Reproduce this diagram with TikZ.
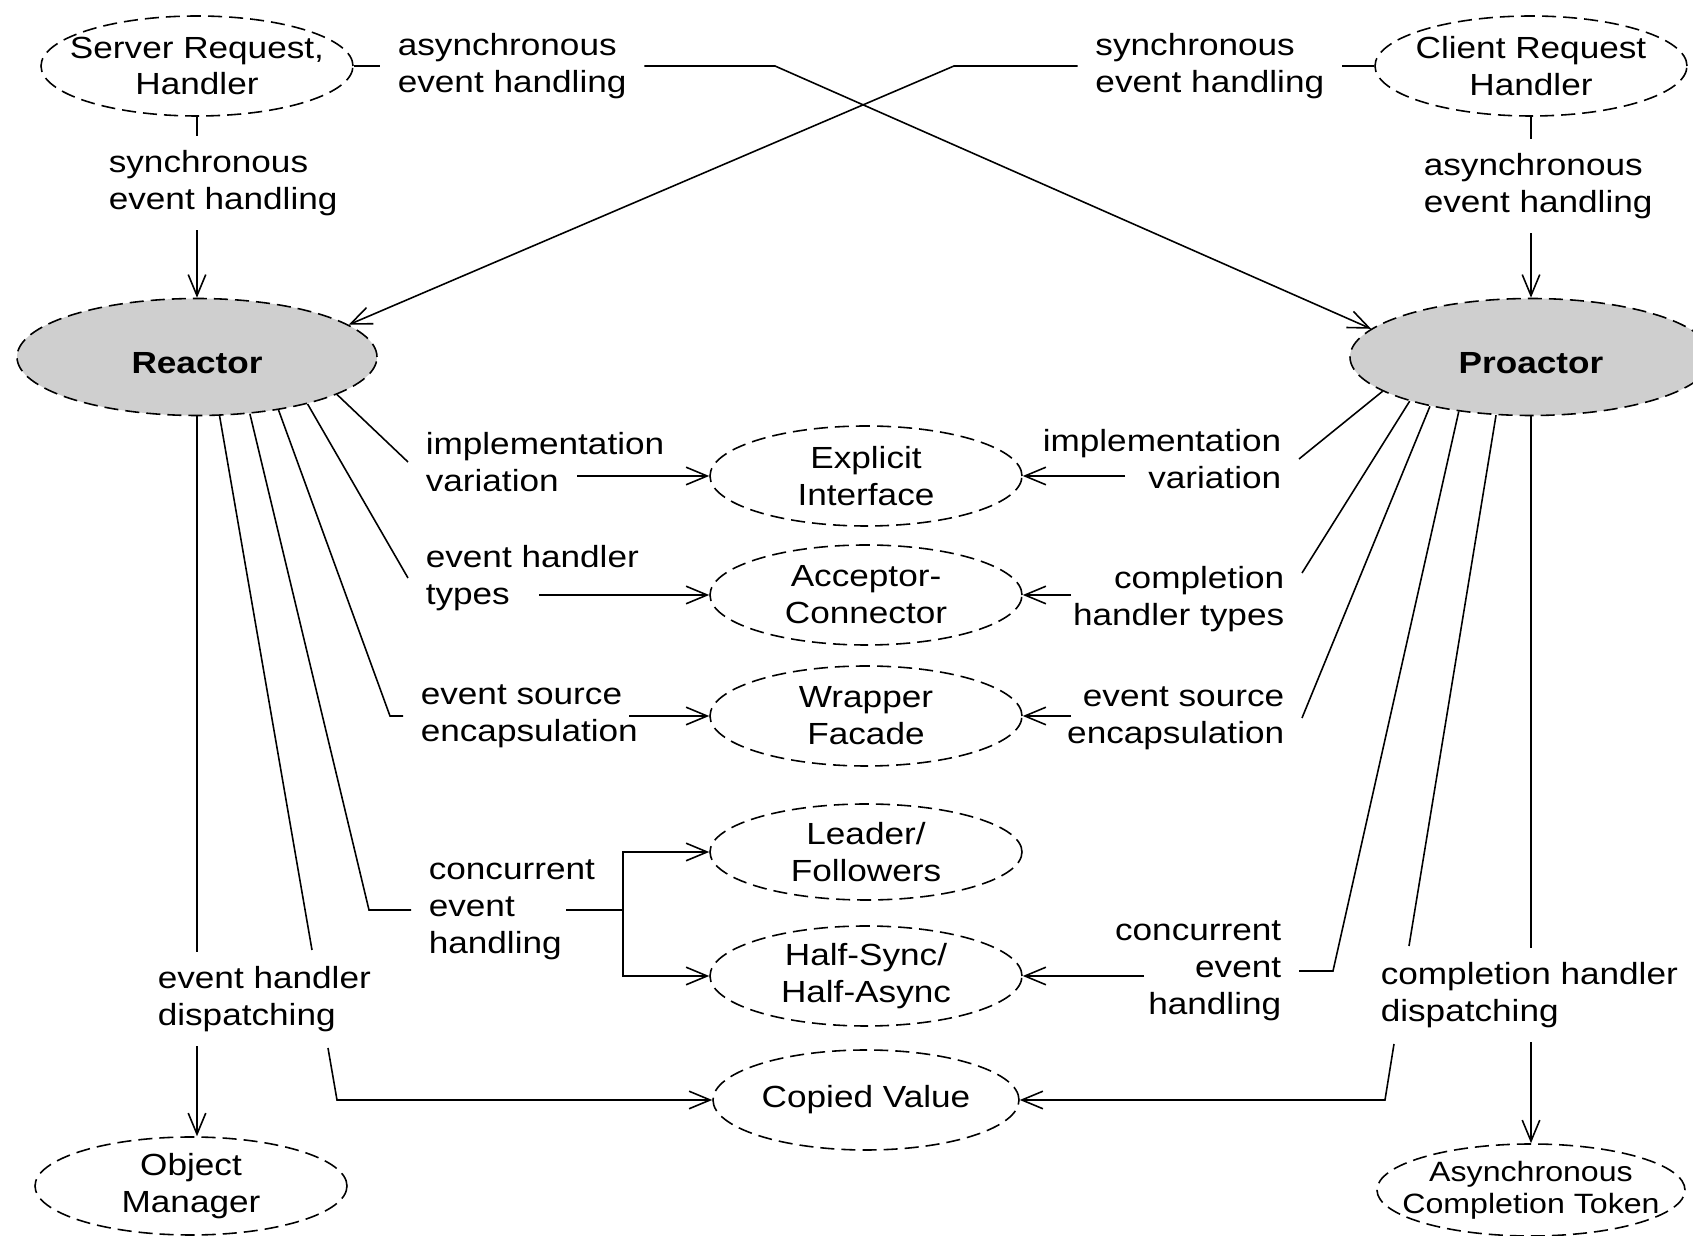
\documentclass[tikz,border=0pt]{standalone}
\usepackage{fontspec}
\setmainfont[FakeStretch=1.15]{Liberation Sans}
\usetikzlibrary{arrows.meta,shapes.geometric}

\begin{document}
\begin{tikzpicture}[
  x=1cm, y=1cm, line width=0.45pt,
  font=\fontsize{8.7}{10.5}\selectfont,
  ell/.style={ellipse, draw, dash pattern=on 4pt off 2pt, align=center,
    minimum width=3.12cm, minimum height=1.0cm, inner xsep=-0.3cm, inner ysep=-0.02cm},
  core/.style={ell, fill=gray!38, minimum width=3.6cm, minimum height=1.17cm,
    text height=0.34cm, font=\fontsize{8.7}{10.5}\selectfont\bfseries},
  lbl/.style={inner xsep=0.17cm, inner ysep=0.14cm, align=left},
  arr/.style={-{Straight Barb[length=6pt,width=5pt]}}
]
\useasboundingbox (0,0) rectangle (16.93,-12.36);

% patterns
\node[ell] (srh) at (1.97,-0.66) {Server Request,\\Handler};
\node[ell] (crh) at (15.31,-0.66) {Client Request\\Handler};
\node[core] (reactor) at (1.97,-3.57) {Reactor};
\node[core, minimum width=3.62cm] (proactor) at (15.31,-3.57) {Proactor};
\node[ell] (expl) at (8.66,-4.76) {Explicit\\Interface};
\node[ell] (acc) at (8.66,-5.95) {Acceptor-\\Connector};
\node[ell] (wrap) at (8.66,-7.16) {Wrapper\\Facade};
\node[ell, minimum height=0.96cm] (lead) at (8.66,-8.52) {Leader/\\Followers};
\node[ell] (half) at (8.66,-9.76) {Half-Sync/\\Half-Async};
\node[ell, minimum width=3.06cm] (copied) at (8.66,-11.0) {Copied Value};
\node[ell, minimum height=0.98cm] (objmgr) at (1.91,-11.86) {Object\\Manager};
\node[ell, minimum width=3.08cm, minimum height=0.92cm,
  font=\fontsize{7.95}{9.1}\selectfont] (act) at (15.31,-11.9) {Asynchronous\\Completion Token};

% relation labels
\node[lbl, anchor=west] (asyncL) at (3.80,-0.66) {asynchronous\\event handling};
\node[lbl, anchor=east] (syncR) at (13.42,-0.66) {synchronous\\event handling};
\node[lbl, anchor=west] (syncV) at (0.91,-1.83) {synchronous\\event handling};
\node[lbl, anchor=west] (asyncV) at (14.06,-1.86) {asynchronous\\event handling};
\node[lbl, anchor=west] (implL) at (4.08,-4.62) {implementation\\variation};
\node[lbl, anchor=west] (typesL) at (4.08,-5.78) {event handler\\types};
\node[lbl, anchor=west] (srcL) at (4.03,-7.16) {event source\\encapsulation};
\node[lbl, anchor=west] (concL) at (4.11,-9.10) {concurrent\\event\\handling};
\node[lbl, anchor=west] (dispL) at (1.40,-9.99) {event handler\\dispatching};
\node[lbl, anchor=east, align=right] (implR) at (12.99,-4.59) {implementation\\variation};
\node[lbl, anchor=east, align=right] (typesR) at (13.02,-5.99) {completion\\handler types};
\node[lbl, anchor=east, align=right] (srcR) at (13.02,-7.18) {event source\\encapsulation};
\node[lbl, anchor=east, align=right] (concR) at (12.99,-9.71) {concurrent\\event\\handling};
\node[lbl, anchor=west] (dispR) at (13.63,-9.95) {completion handler\\dispatching};

% bends and line ends
\coordinate (bendA) at (7.75,-0.66);
\coordinate (bendB) at (9.54,-0.66);
\coordinate (implOut) at (5.77,-4.76);
\coordinate (typesOut) at (5.39,-5.95);
\coordinate (srcOut) at (6.29,-7.16);
\coordinate (concOut) at (5.66,-9.10);
\coordinate (fork) at (6.23,-9.10);
\coordinate (dispA) at (3.12,-9.50);
\coordinate (dispB) at (3.28,-10.48);
\coordinate (dispC) at (3.37,-11.0);
\coordinate (implIn) at (11.25,-4.76);
\coordinate (typesIn) at (10.71,-5.95);
\coordinate (srcIn) at (10.71,-7.16);
\coordinate (concIn) at (11.44,-9.76);
\coordinate (compA) at (14.09,-9.46);
\coordinate (compB) at (13.94,-10.44);
\coordinate (compC) at (13.85,-11.0);

% top: request handlers
\draw (srh) -- (asyncL);
\draw[arr] (asyncL) -- (bendA) -- (proactor.170);
\draw (crh) -- (syncR);
\draw[arr] (syncR) -- (bendB) -- (reactor.12);
\draw (srh) -- (srh |- syncV.north);
\draw[arr] (srh |- syncV.south) -- (reactor);
\draw (crh) -- (crh |- asyncV.north);
\draw[arr] (crh |- asyncV.south) -- (proactor);

% reactor side
\draw (reactor.-15) -- (implL.west);
\draw (reactor.-23) -- (typesL.west);
\draw (reactor.-33) -- ([xshift=-0.13cm]srcL.west) -- (srcL.west);
\draw (reactor.-47) -- ([xshift=-0.42cm]concL.west) -- (concL.west);
\draw (reactor.-69) -- (dispA);
\draw (reactor) -- (reactor |- dispL.north);
\draw[arr] (implOut) -- (expl);
\draw[arr] (typesOut) -- (acc);
\draw[arr] (srcOut) -- (wrap);
\draw (concOut) -- (fork);
\draw[arr] (fork) |- (lead);
\draw[arr] (fork) |- (half);
\draw[arr] (dispB) -- (dispC) -- (copied);
\draw[arr] (reactor |- dispL.south) -- (reactor |- objmgr.north);

% proactor side
\draw (proactor.-167) -- (implR.east);
\draw (proactor.-160) -- ([yshift=0.26cm]typesR.east);
\draw (proactor.-154) -- (srcR.east);
\draw (proactor.-143) -- ([xshift=0.34cm]concR.east) -- (concR.east);
\draw (proactor.-121) -- (compA);
\draw (proactor) -- (proactor |- dispR.north);
\draw[arr] (implIn) -- (expl);
\draw[arr] (typesIn) -- (acc);
\draw[arr] (srcIn) -- (wrap);
\draw[arr] (concIn) -- (half);
\draw[arr] (compB) -- (compC) -- (copied);
\draw[arr] (proactor |- dispR.south) -- (act);
\end{tikzpicture}
\end{document}
